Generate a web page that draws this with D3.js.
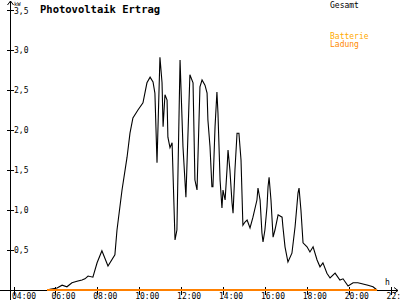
<!DOCTYPE html>
<html>
<head>
<meta charset="utf-8">
<script src="https://cdn.jsdelivr.net/npm/d3@7"></script>
<style>
  body { margin: 0; background: #fff; }
  svg { display: block; }
  text { font-family: "DejaVu Sans Mono", monospace; }
</style>
</head>
<body>
<script>
const width = 400
const height = 300

// Gesamt (kW) over time of day (hours)
const hours = [5.65, 5.74, 6.08, 6.32, 6.55, 6.79, 7.03, 7.27, 7.41, 7.56, 7.79, 7.99,
  8.22, 8.51, 8.84, 8.94, 9.18, 9.42, 9.56, 9.70, 9.94, 10.18, 10.37, 10.52, 10.66,
  10.75, 10.85, 10.99, 11.09, 11.14, 11.23, 11.33, 11.37, 11.47, 11.57, 11.71, 11.80,
  11.95, 12.09, 12.23, 12.42, 12.57, 12.66, 12.76, 12.90, 13.00, 13.14, 13.24, 13.28,
  13.38, 13.47, 13.52, 13.62, 13.71, 13.76, 13.86, 13.95, 14.00, 14.10, 14.19, 14.24,
  14.33, 14.43, 14.48, 14.57, 14.67, 14.76, 14.86, 14.95, 15.05, 15.15, 15.29, 15.43,
  15.62, 15.67, 15.77, 15.86, 15.91, 16.00, 16.10, 16.15, 16.20, 16.29, 16.39, 16.48,
  16.63, 16.82, 16.86, 16.96, 17.10, 17.29, 17.44, 17.58, 17.63, 17.72, 17.82, 18.01,
  18.15, 18.30, 18.49, 18.63, 18.77, 18.96, 19.11, 19.35, 19.58, 19.73, 19.97, 20.21,
  20.44, 20.68, 20.92, 21.16, 21.35]
const gesamt = [0, 0.01, 0.025, 0.06, 0.04, 0.09, 0.11, 0.125, 0.14, 0.175, 0.16, 0.34,
  0.49, 0.30, 0.44, 0.75, 1.25, 1.66, 1.96, 2.15, 2.25, 2.34, 2.59, 2.66, 2.60,
  2.46, 1.59, 2.91, 2.59, 2.04, 2.44, 2.375, 1.91, 1.78, 1.84, 0.625, 0.75,
  2.875, 1.79, 1.16, 2.69, 2.59, 1.375, 1.25, 2.54, 2.625, 2.56, 2.46, 2.125,
  1.79, 1.29, 1.29, 2.04, 2.475, 2.21, 1.375, 1.025, 1.25, 1.125, 1.5, 1.75,
  1.5, 1.09, 0.96, 1.5, 1.96, 1.96, 1.625, 0.81, 0.85, 0.875, 0.775, 0.91,
  1.125, 1.275, 1.125, 0.71, 0.6, 0.75, 1.04, 1.29, 1.41, 1.125, 0.66, 0.75,
  0.94, 0.91, 0.79, 0.54, 0.35, 0.46, 0.79, 1.21, 1.275, 1.0, 0.59, 0.54,
  0.475, 0.54, 0.375, 0.29, 0.34, 0.21, 0.15, 0.21, 0.125, 0.14, 0.05, 0.09,
  0.09, 0.075, 0.06, 0.04, 0]

// Batterie Ladung (kW)
const ladungHours = [5.6, 21.35]
const ladung = [0, 0]

const xTicks = [4, 6, 8, 10, 12, 14, 16, 18, 20, 22]
const xTickLabels = ['04:00', '06:00', '08:00', '10:00', '12:00', '14:00', '16:00', '18:00', '20:00', '22:']
const yTicks = [0.5, 1.0, 1.5, 2.0, 2.5, 3.0, 3.5]

const x = d3.scaleLinear().domain([4, 22]).range([13.5, 390.6])
const y = d3.scaleLinear().domain([0, 3.5]).range([290, 10])

const svg = d3.select('body')
  .append('svg')
  .attr('width', width)
  .attr('height', height)

const axisX = 10.5
const axisY = 290.5

// title + legend
svg.append('text')
  .attr('x', 40)
  .attr('y', 13)
  .attr('font-size', 10.5)
  .attr('font-weight', 'bold')
  .text('Photovoltaik Ertrag')

svg.append('text').attr('x', 330).attr('y', 8).attr('font-size', 8).attr('fill', '#000').text('Gesamt')
svg.append('text').attr('x', 330).attr('y', 39).attr('font-size', 8).attr('fill', '#ffaa00').text('Batterie')
svg.append('text').attr('x', 330).attr('y', 47).attr('font-size', 8).attr('fill', '#ff8800').text('Ladung')

// data lines
const line = d3.line()
  .x((d) => x(d[0]))
  .y((d) => y(d[1]))

svg.append('path')
  .datum(hours.map((h, i) => [h, gesamt[i]]))
  .attr('fill', 'none')
  .attr('stroke', '#000')
  .attr('stroke-width', 1.1)
  .attr('d', line)

// axes
const axes = svg.append('g')
  .attr('stroke', '#000')
  .attr('stroke-width', 1)
  .attr('shape-rendering', 'crispEdges')

axes.append('line').attr('x1', 0).attr('x2', 398).attr('y1', axisY).attr('y2', axisY)
axes.append('line').attr('x1', axisX).attr('x2', axisX).attr('y1', 1).attr('y2', 300)

// arrows
svg.append('path')
  .attr('fill', 'none')
  .attr('stroke', '#000')
  .attr('d', `M${axisX - 3},5 L${axisX},1 L${axisX + 3},5 M394,${axisY - 3} L398,${axisY} L394,${axisY + 3}`)

svg.append('path')
  .datum(ladungHours.map((h, i) => [h, ladung[i]]))
  .attr('fill', 'none')
  .attr('stroke', '#ff8000')
  .attr('stroke-width', 1.2)
  .attr('shape-rendering', 'crispEdges')
  .attr('d', line)

axes.selectAll('.ytick')
  .data(yTicks)
  .enter()
  .append('line')
  .attr('x1', 7).attr('x2', 14)
  .attr('y1', (d) => Math.round(y(d)) + 0.5)
  .attr('y2', (d) => Math.round(y(d)) + 0.5)

axes.selectAll('.xtick')
  .data(xTicks)
  .enter()
  .append('line')
  .attr('x1', (d) => Math.round(x(d)) + 0.5)
  .attr('x2', (d) => Math.round(x(d)) + 0.5)
  .attr('y1', 287)
  .attr('y2', 295)

svg.selectAll('.ylabel')
  .data(yTicks)
  .enter()
  .append('text')
  .attr('x', 14)
  .attr('y', (d) => y(d) + (d === 3.5 ? 4 : 3))
  .attr('font-size', 8)
  .text((d) => d3.format('.1f')(d).replace('.', ','))

svg.append('text').attr('x', 14).attr('y', 6).attr('font-size', 5.5).text('kW')

svg.selectAll('.xlabel')
  .data(xTicks)
  .enter()
  .append('text')
  .attr('x', (d, i) => Math.max(12, x(d) - 4))
  .attr('y', 299)
  .attr('font-size', 8)
  .text((d, i) => xTickLabels[i])

svg.append('text').attr('x', 385).attr('y', 285).attr('font-size', 8).text('h')
</script>
</body>
</html>
